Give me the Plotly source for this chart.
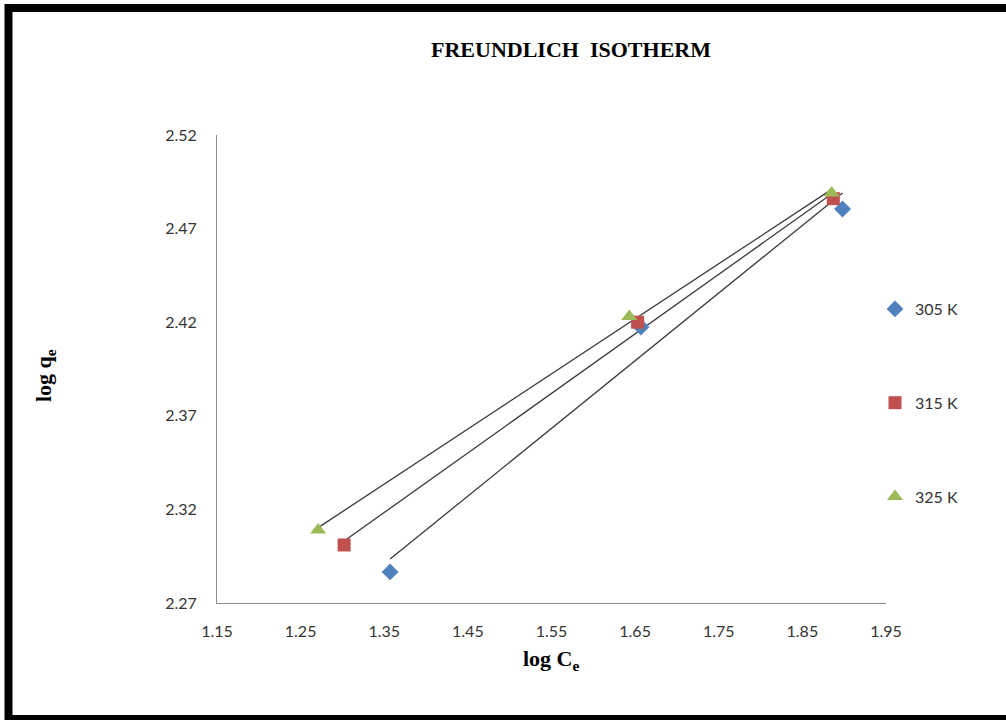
import numpy as np
import plotly.graph_objects as go

series_names = ["305 K", "315 K", "325 K"]
log_ce_305 = [1.357, 1.657, 1.898]
log_qe_305 = [2.2866, 2.4174, 2.4805]
log_ce_315 = [1.302, 1.653, 1.887]
log_qe_315 = [2.301, 2.420, 2.486]
log_ce_325 = [1.271, 1.643, 1.885]
log_qe_325 = [2.309, 2.423, 2.489]
x_ticks = [1.15, 1.25, 1.35, 1.45, 1.55, 1.65, 1.75, 1.85, 1.95]
y_ticks = [2.27, 2.32, 2.37, 2.42, 2.47, 2.52]

colors = ["#4F81BD", "#C0504D", "#9BBB59"]
symbols = ["diamond", "square", "triangle-up"]
sizes = [13, 13, 14]

W, H = 1006, 720
L, R, T, B = 217, 886, 135, 603

fig = go.Figure()
data = [(log_ce_305, log_qe_305), (log_ce_315, log_qe_315), (log_ce_325, log_qe_325)]
for i, (xs, ys) in enumerate(data):
    m, c = np.polyfit(xs, ys, 1)
    x0, x1 = min(xs), max(xs)
    fig.add_trace(go.Scatter(x=[x0, x1], y=[m * x0 + c, m * x1 + c], mode="lines",
                             line=dict(color="#3a3a3a", width=1.3), showlegend=False,
                             hoverinfo="skip"))
for i, (xs, ys) in enumerate(data):
    fig.add_trace(go.Scatter(x=xs, y=ys, mode="markers", name=series_names[i],
                             legendgroup=series_names[i],
                             marker=dict(symbol=symbols[i], color=colors[i], size=sizes[i])))

tick_font = dict(family="Lato, Liberation Sans", size=16, color="#333333")
axis_common = dict(showgrid=False, zeroline=False, showline=True, linecolor="#8c8c8c",
                   linewidth=1, ticks="", tickfont=tick_font)

serif = dict(family="Liberation Serif", size=22, color="black")

fig.update_layout(
    width=W, height=H,
    margin=dict(l=L, r=W - R, t=T, b=H - B),
    paper_bgcolor="white", plot_bgcolor="white",
    title=dict(text="<b>FREUNDLICH\u00a0 ISOTHERM</b>", x=571 / W, xref="container",
               y=1 - 49 / H, yref="container", xanchor="center", yanchor="middle",
               font=serif),
    xaxis=dict(range=[1.15, 1.95], tickvals=x_ticks, ticktext=[f"{v:.2f}" for v in x_ticks],
               ticklabelstandoff=14, **axis_common),
    yaxis=dict(range=[2.27, 2.52], tickvals=y_ticks, ticktext=[f"{v:.2f}" for v in y_ticks],
               ticklabelstandoff=16, **axis_common),
    annotations=[
        dict(text="<b>log C<sub>e</sub></b>", xref="paper", yref="paper",
             x=(551 - L) / (R - L), y=(B - 660) / (B - T), xanchor="center", yanchor="middle",
             showarrow=False, font=serif),
        dict(text="<b>log q<sub>e</sub></b>", xref="paper", yref="paper", textangle=-90,
             x=(45 - L) / (R - L), y=(B - 376) / (B - T), xanchor="center", yanchor="middle",
             showarrow=False, font=serif),
    ],
    legend=dict(x=(875 - L) / (R - L), xanchor="left", y=(B - 292) / (B - T), yanchor="top",
                tracegroupgap=70, font=tick_font,
                itemwidth=30, bgcolor="rgba(0,0,0,0)"),
    shapes=[dict(type="rect", xref="paper", yref="paper",
                 x0=(8.5 - L) / (R - L), x1=(1012 - L) / (R - L),
                 y0=(B - 719) / (B - T), y1=(B - 8) / (B - T),
                 line=dict(color="black", width=8), fillcolor="rgba(0,0,0,0)", layer="above")],
)

fig.write_html("out.html")
